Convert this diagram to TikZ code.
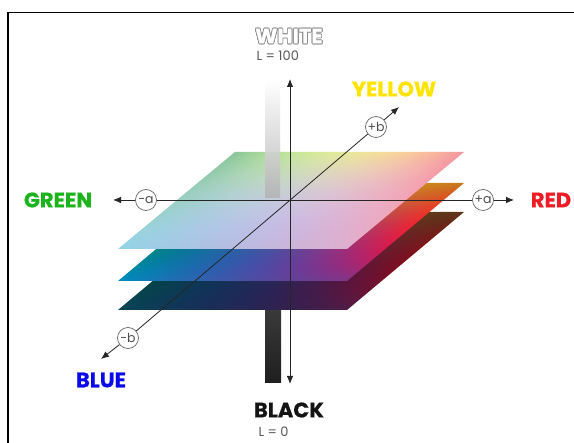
\documentclass[tikz,border=0pt]{standalone}
\usepackage{fontspec}
\setmainfont{Poppins}
\newfontfamily\heavyfont{Poppins}[UprightFont=*-Bold, FakeBold=0.6]
\usetikzlibrary{arrows.meta}
\definecolor{labgreen}{RGB}{28,180,28}
\definecolor{labred}{RGB}{238,28,36}
\definecolor{labyellow}{RGB}{255,228,0}
\definecolor{labblue}{RGB}{10,10,235}
% top plane (A,B,C = left,mid,right ; second letter A,B,C = near,mid,far)
\definecolor{poneAA}{rgb}{0.58,0.83,0.91}
\definecolor{poneBA}{rgb}{0.72,0.74,0.87}
\definecolor{poneCA}{rgb}{0.87,0.69,0.81}
\definecolor{poneAB}{rgb}{0.60,0.81,0.77}
\definecolor{poneBB}{rgb}{0.80,0.78,0.86}
\definecolor{poneCB}{rgb}{0.95,0.64,0.71}
\definecolor{poneAC}{rgb}{0.54,0.77,0.60}
\definecolor{poneBC}{rgb}{0.91,0.91,0.60}
\definecolor{poneCC}{rgb}{0.95,0.58,0.62}
% middle plane
\definecolor{ptwoAA}{rgb}{0.00,0.55,0.75}
\definecolor{ptwoBA}{rgb}{0.27,0.33,0.65}
\definecolor{ptwoCA}{rgb}{0.48,0.22,0.55}
\definecolor{ptwoAB}{rgb}{0.00,0.50,0.42}
\definecolor{ptwoBB}{rgb}{0.35,0.35,0.55}
\definecolor{ptwoCB}{rgb}{0.92,0.12,0.22}
\definecolor{ptwoAC}{rgb}{0.10,0.50,0.20}
\definecolor{ptwoBC}{rgb}{0.70,0.60,0.10}
\definecolor{ptwoCC}{rgb}{0.76,0.46,0.12}
% bottom plane
\definecolor{pthrAA}{rgb}{0.04,0.27,0.33}
\definecolor{pthrBA}{rgb}{0.13,0.16,0.33}
\definecolor{pthrCA}{rgb}{0.30,0.12,0.28}
\definecolor{pthrAB}{rgb}{0.02,0.26,0.24}
\definecolor{pthrBB}{rgb}{0.18,0.17,0.30}
\definecolor{pthrCB}{rgb}{0.50,0.06,0.12}
\definecolor{pthrAC}{rgb}{0.05,0.25,0.12}
\definecolor{pthrBC}{rgb}{0.30,0.28,0.10}
\definecolor{pthrCC}{rgb}{0.36,0.20,0.10}
\def\qt#1#2#3#4{\the\numexpr#1+6-#2\relax\space index \the\numexpr#1+4-#3\relax\space index mul #4\space mul add\space}
\def\qchan#1#2{0 \qt{#1}{0}{0}{\csname cAA#2\endcsname}\qt{#1}{0}{1}{\csname cAB#2\endcsname}\qt{#1}{0}{2}{\csname cAC#2\endcsname}\qt{#1}{1}{0}{\csname cBA#2\endcsname}\qt{#1}{1}{1}{\csname cBB#2\endcsname}\qt{#1}{1}{2}{\csname cBC#2\endcsname}\qt{#1}{2}{0}{\csname cCA#2\endcsname}\qt{#1}{2}{1}{\csname cCB#2\endcsname}\qt{#1}{2}{2}{\csname cCC#2\endcsname}}
\def\qbasis{dup 2 mul 1 sub 1 index 1 sub mul 1 index dup 1 exch sub mul 4 mul 2 index dup 2 mul 1 sub mul 4 -1 roll pop }
\newcommand\declplane[1]{%
 \pgfdeclarefunctionalshading{#1}{\pgfpoint{-50bp}{-50bp}}{\pgfpoint{50bp}{50bp}}%
 {\pgfshadecolortorgb{#1AA}{\cAA}\pgfshadecolortorgb{#1AB}{\cAB}\pgfshadecolortorgb{#1AC}{\cAC}%
  \pgfshadecolortorgb{#1BA}{\cBA}\pgfshadecolortorgb{#1BB}{\cBB}\pgfshadecolortorgb{#1BC}{\cBC}%
  \pgfshadecolortorgb{#1CA}{\cCA}\pgfshadecolortorgb{#1CB}{\cCB}\pgfshadecolortorgb{#1CC}{\cCC}}%
 {25 add 50 div exch 25 add 50 div \qbasis 4 -1 roll \qbasis \qchan{0}{red}\qchan{1}{green}\qchan{2}{blue}9 3 roll pop pop pop pop pop pop}}
\declplane{pone}
\declplane{ptwo}
\declplane{pthr}
\tikzset{
  axisline/.style={line width=0.8pt, draw=black!85},
  tip/.style={-{Latex[length=8pt,width=6.5pt]}},
  circ/.style={circle, draw=black!60, line width=0.7pt, fill=white, minimum size=21pt, inner sep=0pt,
    font=\fontsize{12.5}{12.5}\selectfont, text=black!70},
  lbl/.style={font=\fontsize{21}{21}\selectfont\heavyfont},
  lsmall/.style={font=\fontsize{13}{13}\selectfont, text=black!65, anchor=west}
}
\begin{document}
\begin{tikzpicture}[x=1pt,y=-1pt]
\useasboundingbox (0,0) rectangle (574,443);
\fill[white] (0,0) rectangle (574,443);
% frame
\draw[line width=1.6pt] (8,443) -- (8,12.5) -- (574,12.5);
% dark bar below
\shade[top color=black!76, bottom color=black!88] (265,300) rectangle (281,383);
% planes
\begin{scope}[overlay, transform canvas={cm={2.29,0,1.17,0.98,(118pt,-310pt)}}]
  \shade[shading=pthr] (0pt,0pt) rectangle (100pt,100pt);
\end{scope}
\begin{scope}[overlay, transform canvas={cm={2.29,0,1.17,0.98,(118pt,-281pt)}}]
  \shade[shading=ptwo] (0pt,0pt) rectangle (100pt,100pt);
\end{scope}
\begin{scope}[overlay, transform canvas={cm={2.29,0,1.17,0.97,(118pt,-249pt)}}]
  \shade[shading=pone] (0pt,0pt) rectangle (100pt,100pt);
\end{scope}
% light bar above
\shade[top color=white, bottom color=black!30, opacity=0.9] (265,80) rectangle (280,198);
% axis nodes
\coordinate (o) at (290,200);
\node[circ] (na) at (146,200) {-a};
\node[circ] (pa) at (483,200) {+a};
\node[circ] (pb) at (376,127) {+b};
\node[circ] (nb) at (128,338) {-b};
\coordinate (tl) at (113,200);
\coordinate (tr) at (514,200);
\coordinate (tt) at (290,79);
\coordinate (tbm) at (290,384);
\coordinate (tne) at (399,107);
\coordinate (tsw) at (101,359);
\draw[axisline] (na) -- (pa);
\draw[axisline,tip] (na) -- (tl);
\draw[axisline,tip] (pa) -- (tr);
\draw[axisline,{Latex[length=8pt,width=6.5pt]}-{Latex[length=8pt,width=6.5pt]}] (tbm) -- (tt);
\draw[axisline] (nb) -- (pb);
\draw[axisline,tip] (pb) -- (tne);
\draw[axisline,tip] (nb) -- (tsw);
% labels
\node[lbl, text=labgreen] (green) at (58,200) {GREEN};
\node[lbl, text=labred] (red) at (551,200) {RED};
\node[lbl, text=labyellow] (yellow) at (394,89) {YELLOW};
\node[lbl, text=labblue] (blue) at (101,380) {BLUE};
\node[lbl, text=black!92] (black) at (289,410) {BLACK};
\node[lsmall] (lzero) at (255,432) {L = 0};
\foreach \k in {0,30,...,330}
  \node[lbl, text=black!45, shift={(\k:0.75pt)}] (wo\k) at (289,36) {WHITE};
\node[lbl, text=white] (white) at (289,36) {WHITE};
\node[lsmall] (lhund) at (253,56) {L = 100};
\end{tikzpicture}
\end{document}
